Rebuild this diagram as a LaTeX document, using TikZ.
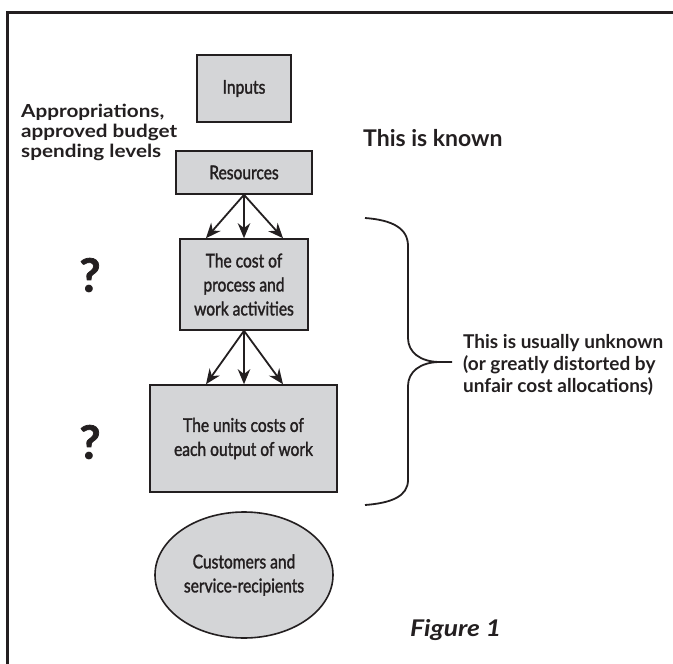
\documentclass[tikz,border=0pt]{standalone}
\usepackage{fontspec}
\setmainfont{Lato}
\newfontfamily\boxfont[FakeStretch=0.82,FakeBold=1.6]{Lato}
\newfontfamily\lblfont[FakeStretch=1.15]{Lato}
\newfontfamily\qfont[FakeBold=1.5]{Lato}
\usetikzlibrary{arrows.meta,shapes.geometric}
\definecolor{boxgray}{RGB}{212,213,215}
\definecolor{ink}{RGB}{35,31,32}
\begin{document}
\begin{tikzpicture}[x=1pt,y=-1pt,
  box/.style={draw=ink, line width=1.6pt, fill=boxgray, inner sep=0pt, align=center,
    font=\boxfont\fontsize{19}{24}\selectfont, text=ink},
  lbl/.style={font=\lblfont\bfseries\fontsize{18}{20}\selectfont, text=ink, inner sep=0pt},
  arr/.style={-{Stealth[length=15pt,width=12.5pt]}, line width=1.8pt, draw=ink},
  brace/.style={line width=1.8pt, draw=ink},
]
\useasboundingbox (0,0) rectangle (673,664);
\draw[line width=3pt, draw=ink] (7,664) -- (7,12) -- (673,12);
\node[box, minimum width=94pt, minimum height=67pt] (inp) at (244,88.5) {Inputs};
\node[box, minimum width=136pt, minimum height=43pt] (res) at (244,172.5) {Resources};
\node[box, minimum width=128pt, minimum height=91pt] (cost) at (244,284.5) {The cost of\\process and\\work activities};
\node[box, minimum width=187pt, minimum height=107pt] (unit) at (243.5,438.5) {The units costs of\\each output of work};
\node[box, ellipse, minimum width=178pt, minimum height=126pt] (cust) at (244,575) {Customers and\\service-recipients};
\draw[arr] (res.south) -- ([xshift=-38pt]cost.north);
\draw[arr] (res.south) -- (cost.north);
\draw[arr] (res.south) -- ([xshift=39pt]cost.north);
\draw[arr] (cost.south) -- ([xshift=-37.5pt]unit.north);
\draw[arr] (cost.south) -- ([xshift=0.5pt]unit.north);
\draw[arr] (cost.south) -- ([xshift=39.5pt]unit.north);
\node[lbl, align=left, anchor=west] (appr) at (21,132) {Appropriations,\\approved budget\\spending levels};
\node[lbl, font=\bfseries\fontsize{23}{26}\selectfont, anchor=west] (known) at (363,138) {This is known};
\node[lbl, font=\qfont\bfseries\fontsize{46}{46}\selectfont] (q1) at (90,275) {?};
\node[lbl, font=\qfont\bfseries\fontsize{46}{46}\selectfont] (q2) at (90,442) {?};
\node[lbl, font=\bfseries\fontsize{19}{22}\selectfont, align=left, anchor=west] (unk) at (463,365) {This is usually unknown\\(or greatly distorted by\\unfair cost allocations)};
\node[font=\lblfont\bfseries\itshape\fontsize{23}{26}\selectfont, text=ink, anchor=west, inner sep=0pt] (fig) at (410,630) {Figure 1};
\coordinate (bt) at (365,218);
\coordinate (bm) at (452,362);
\coordinate (bb) at (365,505);
\draw[brace] (bt) .. controls (392,220) and (408,228) .. (408,246) -- (408,338)
  .. controls (408,352) and (420,362) .. (440,362) -- (bm);
\draw[brace] (440,362) .. controls (420,362) and (408,372) .. (408,386) -- (408,480)
  .. controls (408,496) and (392,503) .. (bb);
\end{tikzpicture}
\end{document}
